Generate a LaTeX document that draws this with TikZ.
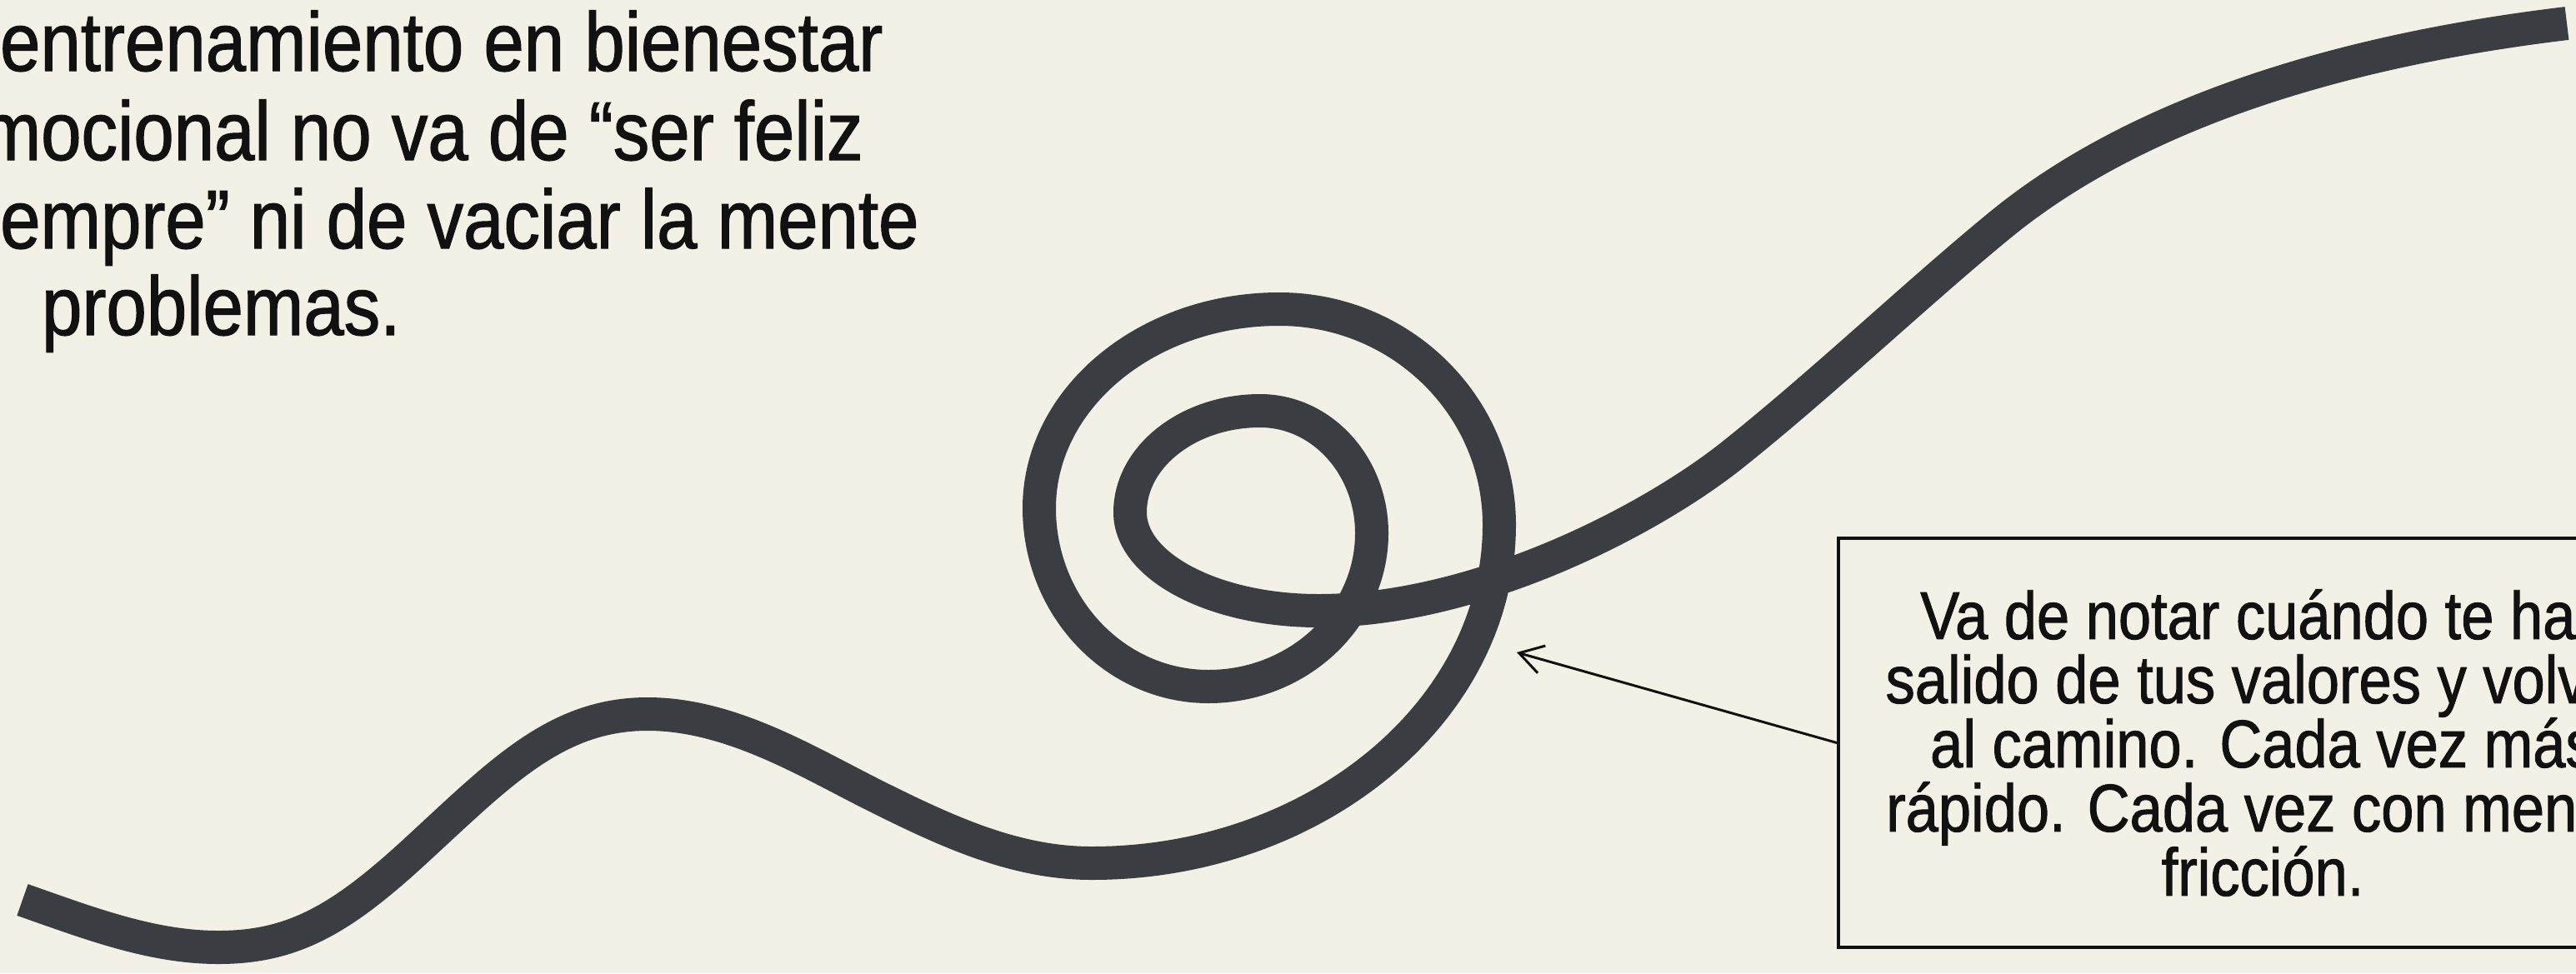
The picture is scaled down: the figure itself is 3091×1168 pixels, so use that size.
\documentclass[tikz,border=0pt]{standalone}
\usepackage{fontspec}
\setmainfont{Liberation Sans}[FakeStretch=0.87,FakeBold=1.2]
\usetikzlibrary{arrows.meta}
\definecolor{bgc}{HTML}{F3F1E5}
\definecolor{inkc}{HTML}{3A3D41}
\definecolor{txtc}{HTML}{111111}
\begin{document}
\begin{tikzpicture}[x=1pt,y=-1pt,
  swirl/.style={draw=inkc, line width=40pt, line cap=butt, line join=round},
  lefttext/.style={anchor=base west, inner sep=0pt, text=txtc, font=\fontsize{100}{106}\selectfont},
  notebox/.style={draw=txtc, line width=4pt, minimum width=1018pt, minimum height=491pt, align=center, text=txtc, font=\fontsize{81}{77}\selectfont, inner sep=0pt},
  pointer/.style={draw=txtc, line width=3pt, -{Straight Barb[length=28pt,width=34pt]}}]
\useasboundingbox (0,0) rectangle (3091,1168);
\fill[bgc] (0,0) rectangle (3091,1168);
\clip (0,0) rectangle (3091,1168);

% the winding path
\draw[swirl] (27,1080)
 .. controls (107,1108) and (182,1137) .. (262,1137)
 .. controls (352,1137) and (410,1103) .. (500,1020)
 .. controls (600,928) and (667,857) .. (777,857)
 .. controls (877,857) and (970,915) .. (1050,955)
 .. controls (1140,1000) and (1220,1036) .. (1310,1036)
 .. controls (1579,1036) and (1799,853) .. (1799,630)
 .. controls (1799,487) and (1681,371) .. (1535,371)
 .. controls (1376,371) and (1247,478) .. (1247,610)
 .. controls (1247,728) and (1338,824) .. (1450,824)
 .. controls (1558,824) and (1646,741) .. (1646,640)
 .. controls (1646,559) and (1586,493) .. (1512,493)
 .. controls (1426,493) and (1356,548) .. (1356,615)
 .. controls (1356,680) and (1457,733) .. (1582,733)
 .. controls (1772,733) and (1980,625) .. (2080,545)
 .. controls (2190,457) and (2300,352) .. (2400,270)
 .. controls (2550,147) and (2780,64) .. (3080,28);

% text at top left (cut by the left edge)
\node[lefttext] (l1) at (0,85) {\llap{El }entrenamiento en bienestar};
\node[lefttext] (l2) at (49,192) {\llap{em}ocional no va de “ser feliz};
\node[lefttext] (l3) at (0,298) {\llap{si}empre” ni de vaciar la mente};
\node[lefttext] (l4) at (50,402) {\llap{de\kern26pt\ }problemas.};

% note box (cut by the right edge)
\node[notebox] (box) at (2715,891.5) {Va de notar cuándo te has\\salido de tus valores y volver\\al camino. Cada vez más\\rápido. Cada vez con menos\\fricción.};

\coordinate (tip) at (1820,783);
\draw[pointer] (box.west) -- (tip);
\end{tikzpicture}
\end{document}
